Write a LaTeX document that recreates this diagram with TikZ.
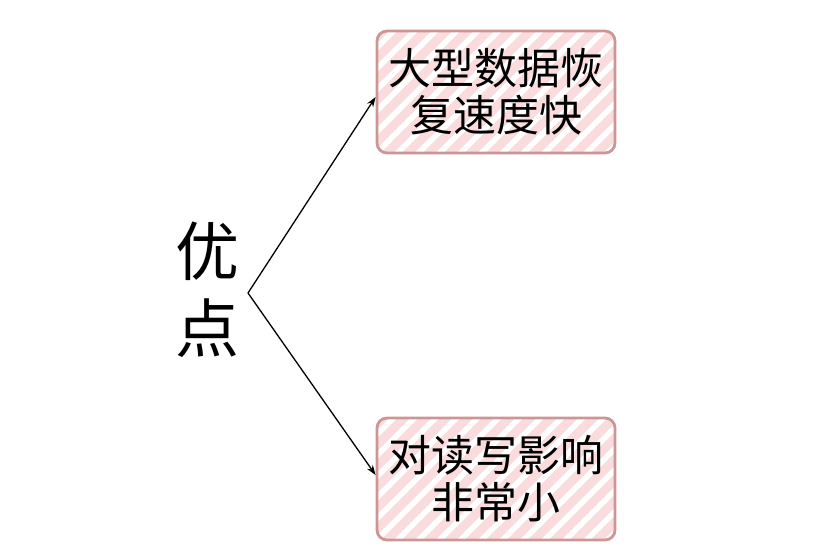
\documentclass[tikz,border=0pt]{standalone}
\usepackage{fontspec}
\setmainfont{Noto Sans CJK SC}
\usetikzlibrary{positioning,arrows.meta}
\definecolor{boxedge}{RGB}{204,150,150}
\definecolor{boxstripe}{RGB}{250,220,222}

\begin{document}
\begin{tikzpicture}[x=1pt, y=-1pt,
      every node/.style={font=\fontsize{43}{47}\selectfont},
      hatchbox/.style={draw=boxedge, line width=2.8pt, rounded corners=10pt, align=center,
        minimum width=238pt, minimum height=122pt, inner sep=0pt,
        path picture={
          \foreach \k in {-10,...,13}
            \draw[boxstripe, line width=9pt] (path picture bounding box.south west) ++(\k*21pt,-10pt) -- ++(150pt,150pt);
        }},
      link/.style={-{Stealth[length=10pt,width=7pt]}, line width=1.3pt}
    ]
      \useasboundingbox (0,0) rectangle (830,550);

      % left label
      \node[font=\fontsize{64}{77}\selectfont, align=center] (adv) at (207,290) {优\\点};
      \coordinate (fork) at (248,293);

      % the two boxes
      \node[hatchbox] (fast) at (496,92) {大型数据恢\\复速度快};
      \node[hatchbox] (low) at (496,479) {对读写影响\\非常小};

      \draw[link] (fork) -- ([yshift=-5pt]fast.west);
      \draw[link] (fork) -- ([yshift=4pt]low.west);
    \end{tikzpicture}
\end{document}
